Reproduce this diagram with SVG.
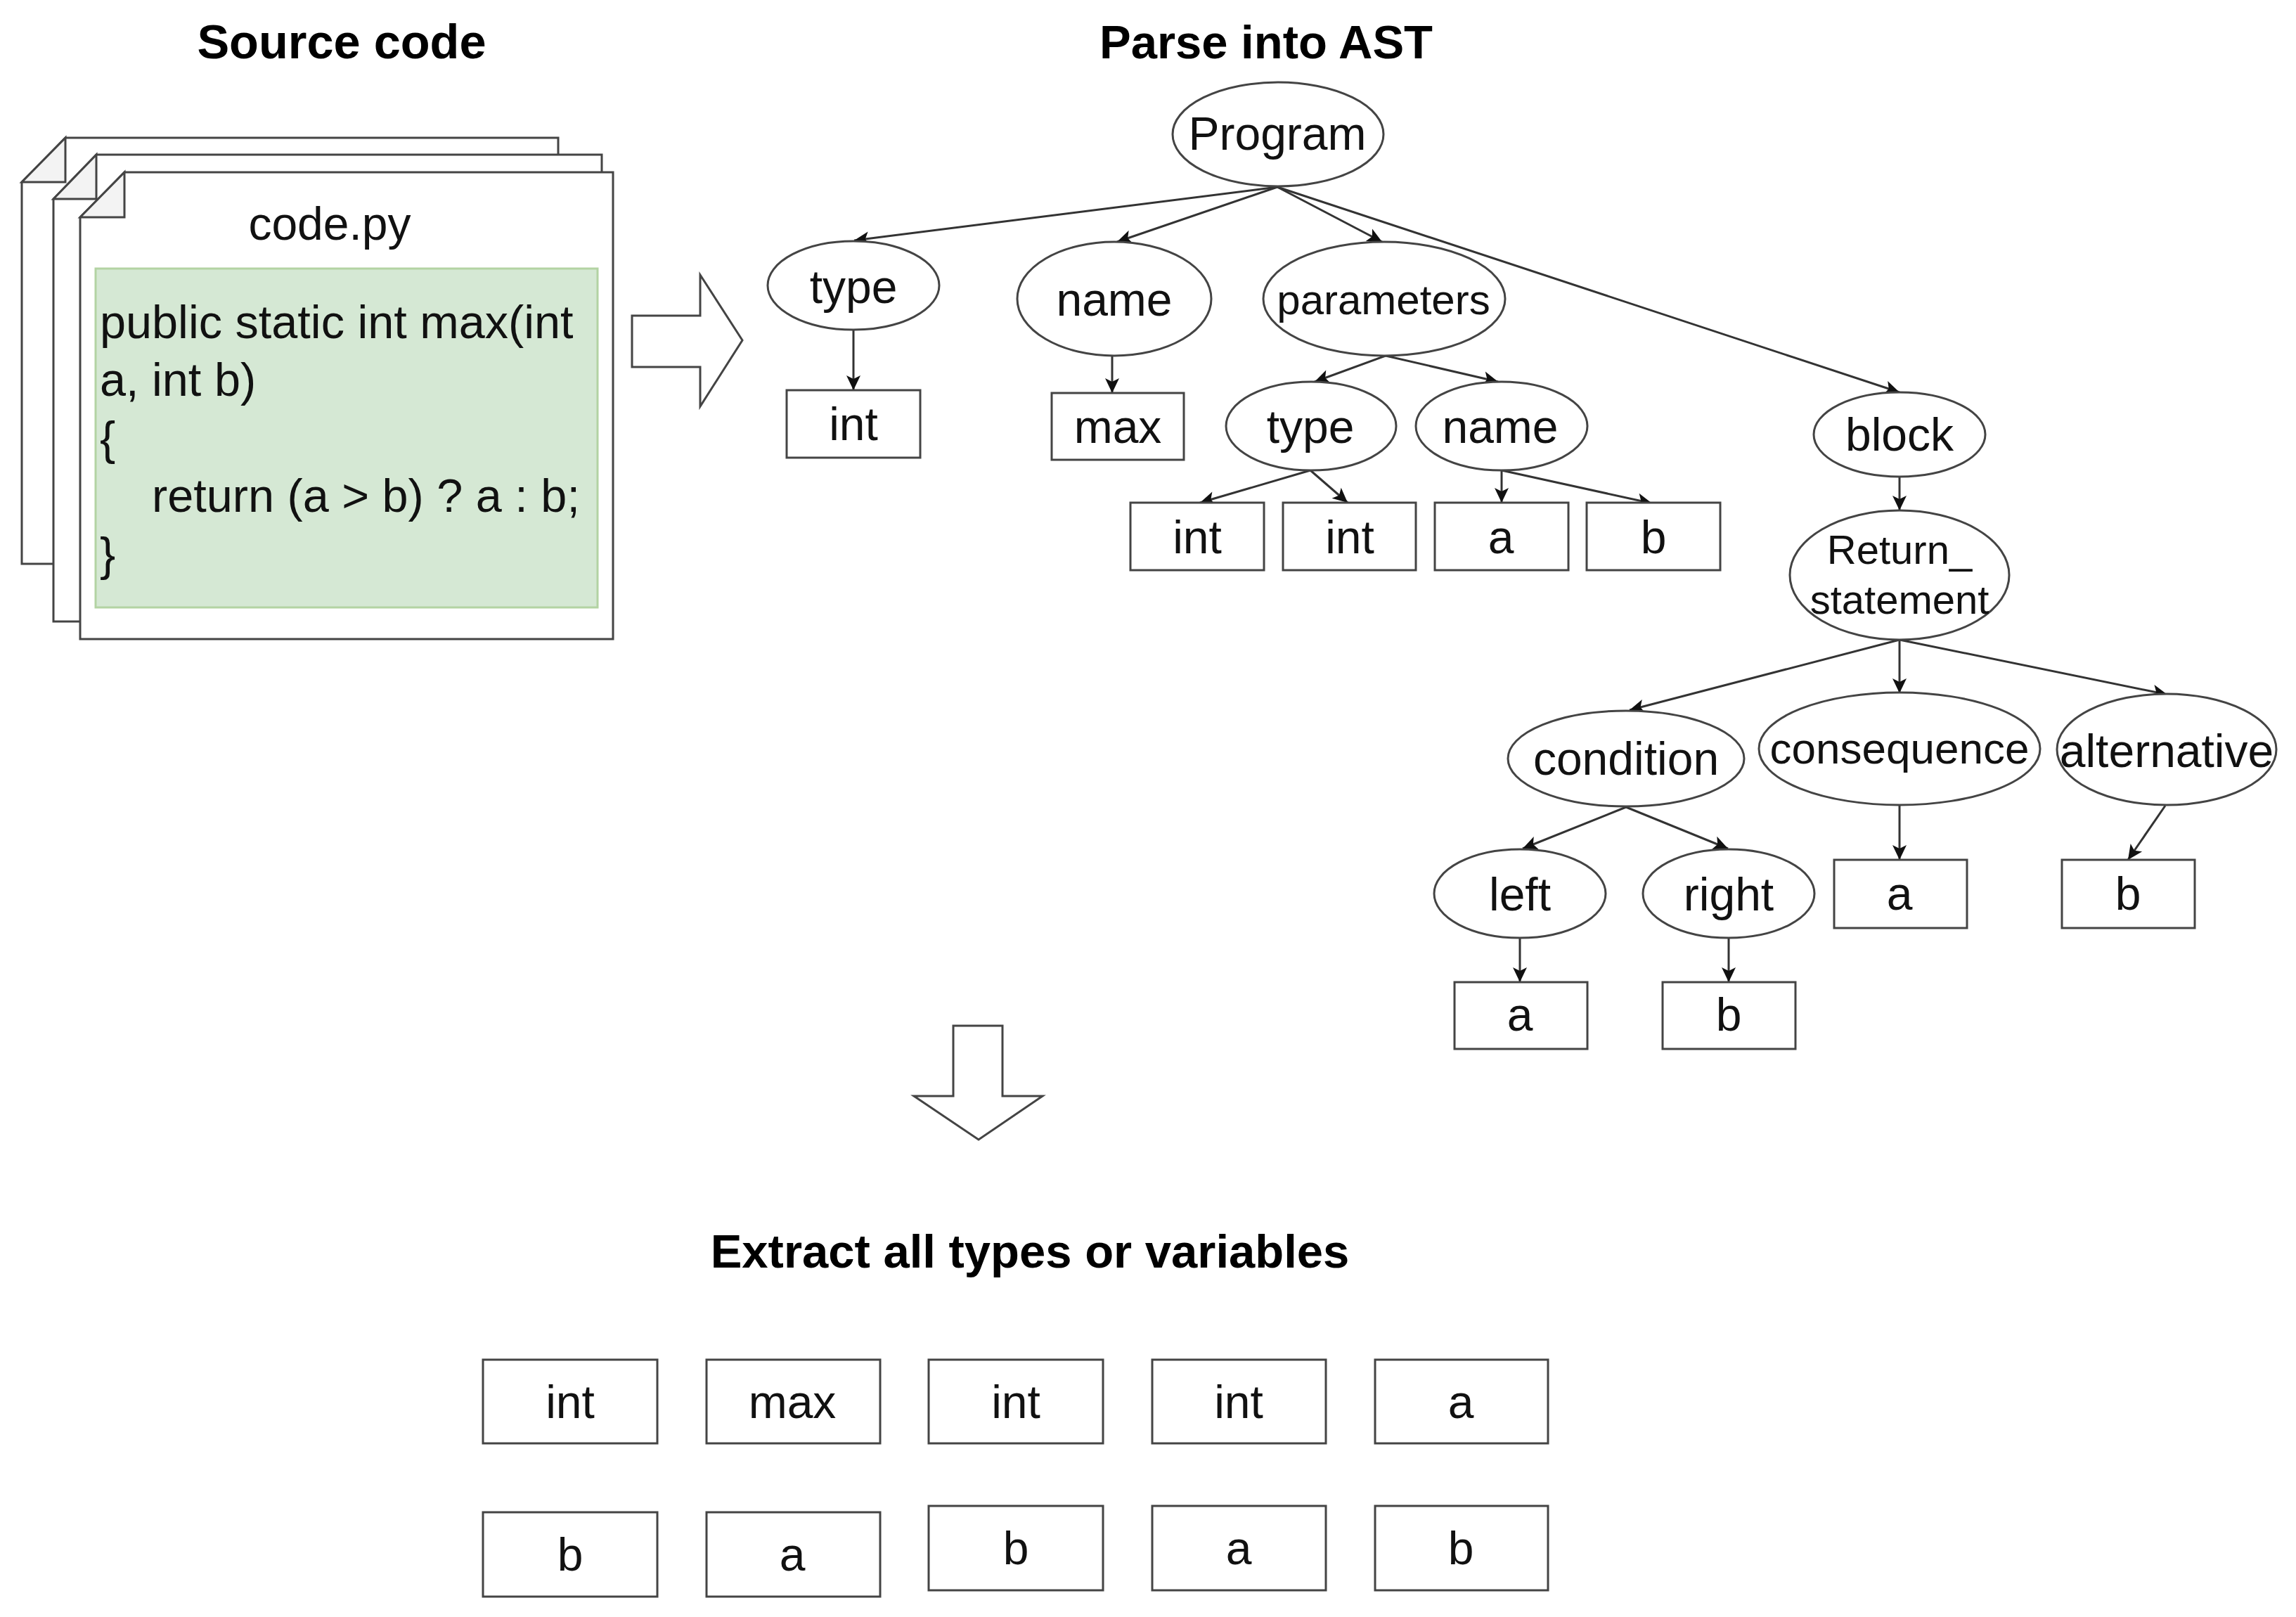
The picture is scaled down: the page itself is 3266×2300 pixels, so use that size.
<svg xmlns="http://www.w3.org/2000/svg" width="3266" height="2300" viewBox="0 0 3266 2300">
<style>
text{font-family:"Liberation Sans",Arial,sans-serif;font-size:66px;fill:#111;text-anchor:middle}
.h{font-weight:bold;font-size:67px;fill:#000}
.c{text-anchor:start;font-size:66.6px}
.n{fill:#fff;stroke:#444;stroke-width:3}
.f{fill:#f3f3f3;stroke:#444;stroke-width:3}
.e{fill:none;stroke:#333;stroke-width:3;marker-end:url(#ah)}
</style>
<defs>
<marker id="ah" markerUnits="userSpaceOnUse" markerWidth="26" markerHeight="26" refX="24" refY="13" orient="auto">
<path d="M3,3 L24,13 L3,23 L8,13 Z" fill="#111"/>
</marker>
</defs>
<rect width="3266" height="2300" fill="#fff"/>
<text class="h" x="486" y="83" style="font-size:68.5px">Source code</text>
<text class="h" x="1801" y="83">Parse into AST</text>
<text class="h" x="1465" y="1803">Extract all types or variables</text>

<g id="page-back"><path class="n" d="M93,196H794V802H31V259Z"/><path class="f" d="M93,196V259H31Z"/></g>
<g id="page-middle"><path class="n" d="M137,220H856V884H76V283Z"/><path class="f" d="M137,220V283H76Z"/></g>
<g id="page-front"><path class="n" d="M177,245H872V909H114V309Z"/><path class="f" d="M177,245V309H114Z"/>
<text x="469" y="341">code.py</text></g>
<g id="code"><rect x="136" y="382" width="714" height="482" fill="#d5e8d4" stroke="#b3d3a3" stroke-width="3"/>
<text class="c" x="142" y="481">public static int max(int</text>
<text class="c" x="142" y="563">a, int b)</text>
<text class="c" x="142" y="646">{</text>
<text class="c" x="216" y="728">return (a &gt; b) ? a : b;</text>
<text class="c" x="142" y="811">}</text></g>

<g id="arrow-right"><path class="n" d="M899,449H996V391L1056,484L996,578V522H899Z"/></g>
<g id="arrow-down"><path class="n" d="M1356,1459H1426V1559H1483L1392,1621L1300,1559H1356Z"/></g>

<g id="connectors">
<path class="e" d="M1817,266L1215,342"/>
<path class="e" d="M1817,266L1589,344"/>
<path class="e" d="M1817,266L1966,344"/>
<path class="e" d="M1817,266L2702,558"/>
<path class="e" d="M1214,469V555"/>
<path class="e" d="M1582,506V559"/>
<path class="e" d="M1971,506L1870,543"/>
<path class="e" d="M1971,506L2131,543"/>
<path class="e" d="M1864,669L1707,715"/>
<path class="e" d="M1864,669L1917,715"/>
<path class="e" d="M2136,669V715"/>
<path class="e" d="M2136,669L2350,716"/>
<path class="e" d="M2702,679V726"/>
<path class="e" d="M2702,910L2318,1010"/>
<path class="e" d="M2702,910V986"/>
<path class="e" d="M2702,910L3083,988"/>
<path class="e" d="M2313,1148L2166,1207"/>
<path class="e" d="M2313,1148L2458,1207"/>
<path class="e" d="M2702,1145V1223"/>
<path class="e" d="M3080,1146L3027,1223"/>
<path class="e" d="M2162,1334V1397"/>
<path class="e" d="M2459,1334V1397"/>
</g>

<g id="n-program"><ellipse class="n" cx="1818" cy="191" rx="150" ry="74"/><text x="1817" y="213">Program</text></g>
<g id="n-type"><ellipse class="n" cx="1214" cy="406" rx="122" ry="63"/><text x="1214" y="431">type</text></g>
<g id="n-name"><ellipse class="n" cx="1585" cy="425" rx="138" ry="81"/><text x="1585" y="449">name</text></g>
<g id="n-parameters"><ellipse class="n" cx="1969" cy="425" rx="172" ry="81"/><text x="1968" y="447" style="font-size:60px">parameters</text></g>
<g id="n-type2"><ellipse class="n" cx="1865" cy="606" rx="121" ry="63"/><text x="1864" y="630">type</text></g>
<g id="n-name2"><ellipse class="n" cx="2136" cy="606" rx="122" ry="63"/><text x="2134" y="630">name</text></g>
<g id="n-block"><ellipse class="n" cx="2702" cy="618" rx="122" ry="60"/><text x="2702" y="641">block</text></g>
<g id="n-return"><ellipse class="n" cx="2702" cy="818" rx="156" ry="92"/><text x="2702" y="802" style="font-size:58px">Return_</text><text x="2702" y="873" style="font-size:58px">statement</text></g>
<g id="n-condition"><ellipse class="n" cx="2313" cy="1079" rx="168" ry="68"/><text x="2313" y="1102">condition</text></g>
<g id="n-consequence"><ellipse class="n" cx="2702" cy="1065" rx="200" ry="80"/><text x="2702" y="1086" style="font-size:62px">consequence</text></g>
<g id="n-alternative"><ellipse class="n" cx="3082" cy="1066" rx="156" ry="79"/><text x="3082" y="1091">alternative</text></g>
<g id="n-left"><ellipse class="n" cx="2162" cy="1271" rx="122" ry="63"/><text x="2162" y="1295">left</text></g>
<g id="n-right"><ellipse class="n" cx="2459" cy="1271" rx="122" ry="63"/><text x="2459" y="1295">right</text></g>

<g id="b-int1"><rect class="n" x="1119" y="555" width="190" height="96"/><text x="1214" y="626">int</text></g>
<g id="b-max"><rect class="n" x="1496" y="559" width="188" height="95"/><text x="1590" y="630">max</text></g>
<g id="b-int2"><rect class="n" x="1608" y="715" width="190" height="96"/><text x="1703" y="787">int</text></g>
<g id="b-int3"><rect class="n" x="1825" y="715" width="189" height="96"/><text x="1920" y="787">int</text></g>
<g id="b-a1"><rect class="n" x="2041" y="715" width="190" height="96"/><text x="2135" y="787">a</text></g>
<g id="b-b1"><rect class="n" x="2257" y="715" width="190" height="96"/><text x="2352" y="787">b</text></g>
<g id="b-a2"><rect class="n" x="2609" y="1223" width="189" height="97"/><text x="2702" y="1294">a</text></g>
<g id="b-b2"><rect class="n" x="2933" y="1223" width="189" height="97"/><text x="3027" y="1294">b</text></g>
<g id="b-a3"><rect class="n" x="2069" y="1397" width="189" height="95"/><text x="2162" y="1466">a</text></g>
<g id="b-b3"><rect class="n" x="2365" y="1397" width="189" height="95"/><text x="2459" y="1466">b</text></g>

<g id="r-int1"><rect class="n" x="687" y="1934" width="248" height="119"/><text x="811" y="2017">int</text></g>
<g id="r-max"><rect class="n" x="1005" y="1934" width="247" height="119"/><text x="1127" y="2017">max</text></g>
<g id="r-int2"><rect class="n" x="1321" y="1934" width="248" height="119"/><text x="1445" y="2017">int</text></g>
<g id="r-int3"><rect class="n" x="1639" y="1934" width="247" height="119"/><text x="1762" y="2017">int</text></g>
<g id="r-a1"><rect class="n" x="1956" y="1934" width="246" height="119"/><text x="2078" y="2017">a</text></g>
<g id="r-b1"><rect class="n" x="687" y="2151" width="248" height="120"/><text x="811" y="2234">b</text></g>
<g id="r-a2"><rect class="n" x="1005" y="2151" width="247" height="120"/><text x="1127" y="2234">a</text></g>
<g id="r-b2"><rect class="n" x="1321" y="2142" width="248" height="120"/><text x="1445" y="2225">b</text></g>
<g id="r-a3"><rect class="n" x="1639" y="2142" width="247" height="120"/><text x="1762" y="2225">a</text></g>
<g id="r-b3"><rect class="n" x="1956" y="2142" width="246" height="120"/><text x="2078" y="2225">b</text></g>
</svg>
